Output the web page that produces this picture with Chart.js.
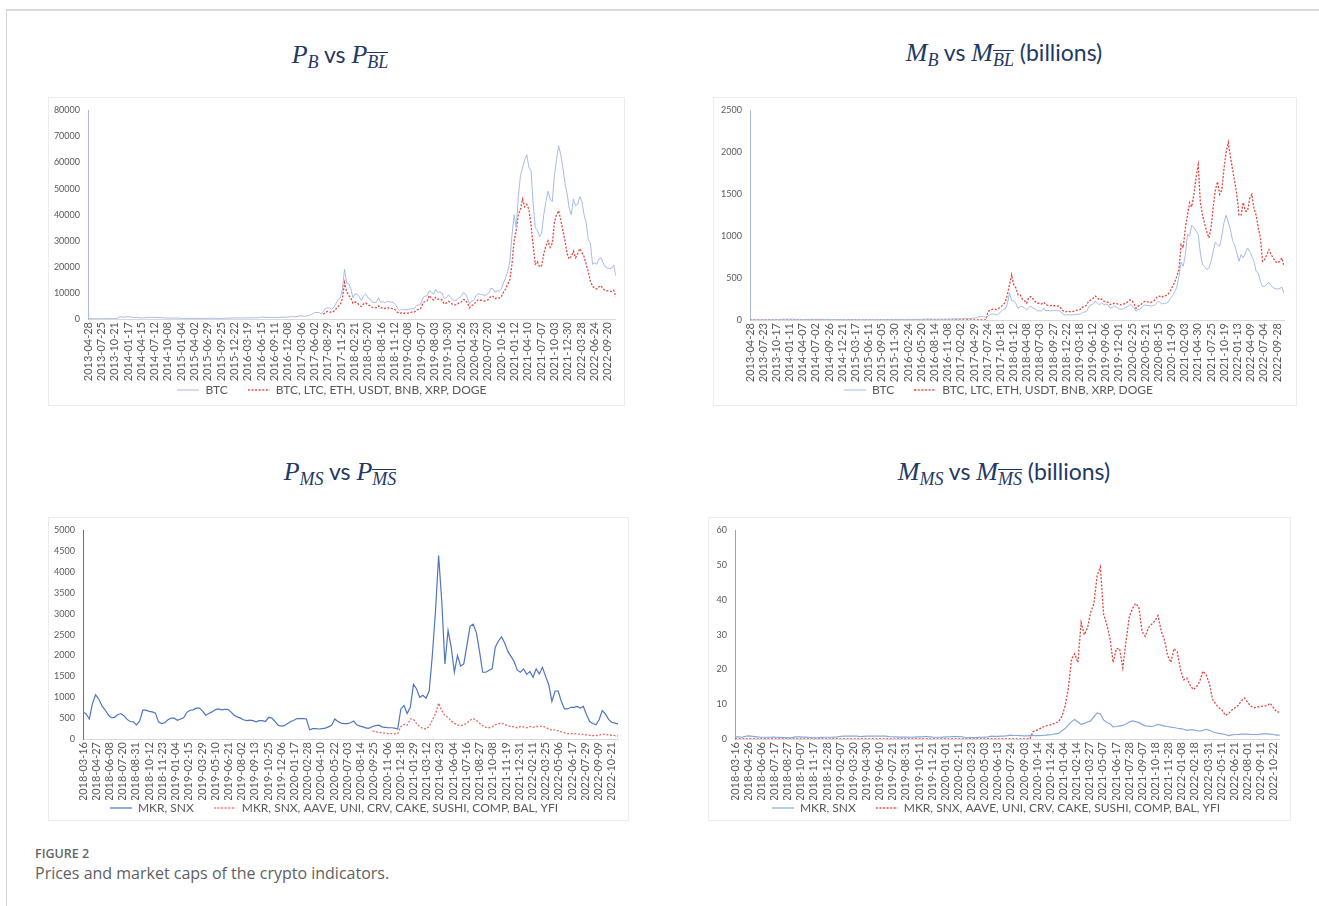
<!DOCTYPE html>
<html>
<head>
<meta charset="utf-8">
<script src="https://cdn.jsdelivr.net/npm/chart.js@4.4.1/dist/chart.umd.min.js"></script>
<style>
  html, body { margin: 0; padding: 0; background: #fff; }
  body { width: 1319px; height: 906px; position: relative; overflow: hidden; }
  .frame { position: absolute; left: 6px; top: 9px; width: 1320px; height: 900px;
           border-top: 2px solid #d9d9d9; border-left: 1px solid #d4d4d4; }
  .panel { position: absolute; border: 1px solid #ececec; box-sizing: border-box; }
  canvas { position: absolute; }
  .ttl { position: absolute; text-align: center; color: #1f3864; white-space: nowrap; line-height: 30px; }
  .mi { font-family: 'Liberation Serif', serif; font-style: italic; font-size: 26px; }
  .sb { font-size: 18px; position: relative; top: 5px; }
  .ov { display: inline-block; border-top: 1px solid #1f3864; line-height: 17px; padding-top: 1px; }
  .tx { font-family: Lato, sans-serif; font-size: 23px; }
  .figno { position: absolute; left: 35px; top: 845px; font: 600 12.5px 'Open Sans', sans-serif; color: #666; }
  .cap { position: absolute; left: 35px; top: 862px; font: 400 16px 'Open Sans', sans-serif; color: #5f5f5f; }
</style>
</head>
<body>
<div class="frame"></div>

<div class="ttl" style="left:190px; top:39px; width:300px;">
  <span class="mi">P</span><span class="mi sb">B</span><span class="tx"> vs </span><span class="mi">P</span><span class="mi sb"><span class="ov">BL</span></span>
</div>
<div class="ttl" style="left:804px; top:37px; width:400px;">
  <span class="mi">M</span><span class="mi sb">B</span><span class="tx"> vs </span><span class="mi">M</span><span class="mi sb"><span class="ov">BL</span></span><span class="tx"> (billions)</span>
</div>
<div class="ttl" style="left:190px; top:456px; width:300px;">
  <span class="mi">P</span><span class="mi sb">MS</span><span class="tx"> vs </span><span class="mi">P</span><span class="mi sb"><span class="ov">MS</span></span>
</div>
<div class="ttl" style="left:804px; top:456px; width:400px;">
  <span class="mi">M</span><span class="mi sb">MS</span><span class="tx"> vs </span><span class="mi">M</span><span class="mi sb"><span class="ov">MS</span></span><span class="tx"> (billions)</span>
</div>

<div class="panel" style="left:48px; top:97px; width:577px; height:309px;"></div>
<div class="panel" style="left:713px; top:97px; width:584px; height:309px;"></div>
<div class="panel" style="left:48px; top:517px; width:581px; height:304px;"></div>
<div class="panel" style="left:708px; top:517px; width:583px; height:304px;"></div>

<canvas id="cPB" width="576" height="309" style="left:48px; top:97px;"></canvas>
<canvas id="cMB" width="583" height="309" style="left:713px; top:97px;"></canvas>
<canvas id="cPMS" width="580" height="307" style="left:48px; top:517px;"></canvas>
<canvas id="cMMS" width="582" height="307" style="left:708px; top:517px;"></canvas>

<div class="figno">FIGURE 2</div>
<div class="cap">Prices and market caps of the crypto indicators.</div>

<script>
// ---------- Bitcoin vs large-cap basket (sampled every 14 days from 2013-04-28) ----------
const bOrigin = '2013-04-28';
const bStep = 14;

// BTC price (USD)
const btcPrice = [
  135,115,130,105,105,75,90,95,100,140,
  135,140,140,190,330,820,800,650,920,830,
  830,620,560,630,470,420,440,440,570,650,
  600,635,620,590,500,480,475,375,375,350,
  360,365,375,330,265,210,225,235,260,285,
  250,235,220,240,240,225,245,270,275,280,
  260,230,230,232,247,285,370,322,395,440,
  430,385,370,405,430,415,420,420,460,458,
  440,575,760,700,680,625,570,575,605,600,
  617,657,710,730,765,790,1000,820,920,1000,
  1180,1230,965,1190,1250,1550,2050,2520,2500,2500,
  1920,2750,4050,4350,4200,3650,4600,6000,7400,8000,
  11200,19100,13800,13600,11500,8100,9600,9500,8450,7000,
  8900,9650,8200,7700,6500,6350,6350,8200,6300,6700,
  6250,6700,6600,6500,6400,5600,4100,3250,3850,3500,
  3550,3650,3850,3950,4000,5200,5350,5750,8200,8750,
  8950,10800,10300,9500,11400,10150,10400,10000,7850,8200,
  9200,8500,7400,7100,7300,8200,8600,10100,9700,8050,
  5800,6800,7100,8900,9700,9450,9350,9000,9300,9900,
  11700,11650,10250,10900,10700,11500,13750,15950,18200,22000,
  32000,40000,35000,47000,55000,58000,61000,63000,58000,57000,
  44000,35000,34000,31500,33000,40000,45000,49000,46000,45000,
  55000,61000,66500,63000,58000,52000,48000,42500,40000,46000,
  43500,44000,47000,45000,40000,37000,30500,29000,21000,21500,
  21000,23000,23500,21500,20000,19500,19300,19500,20600,16500
];

// Basket price (BTC, LTC, ETH, USDT, BNB, XRP, DOGE), first value on 2017-07-30
const blPriceStart = '2017-07-30';
const blPrice = [
  1800,2600,2900,2700,2500,3000,3900,4800,5500,7800,
  14000,10500,9000,8000,6000,6500,6200,5300,4800,5800,
  6200,5400,5100,4500,4300,4300,5000,4200,4400,4000,
  4300,4200,4100,4000,3500,2600,2100,2400,2200,2200,
  2300,2500,2600,2700,3500,3700,4100,6200,6700,7000,
  9000,8000,7300,8300,7600,7700,7300,5800,6100,6800,
  6300,5600,5400,5500,6200,6500,7500,7300,6100,4300,
  5200,5400,6700,7300,7200,7100,6900,7100,7500,8700,
  8700,7800,8200,8000,8600,10300,11500,13400,15000,21000,
  30000,34000,40000,42000,46000,43000,44000,42000,36000,28000,
  21000,22000,20000,20500,25000,28000,30000,27500,29000,37000,
  40000,41500,38000,34000,30000,25000,23000,24000,26000,23500,
  25000,27000,25500,24000,21000,18000,14500,12500,11800,11500,
  12300,12800,11500,11000,10800,10700,10500,11000,8500
];

// BTC market cap (billions)
const btcCap = [
  1.5,1.3,1.5,1.2,1.2,0.9,1.0,1.1,1.2,1.6,
  1.6,1.6,1.6,2.3,4.0,9.9,9.7,7.9,11.3,10.2,
  10.2,7.7,7.0,7.9,5.9,5.3,5.6,5.6,7.3,8.4,
  7.8,8.3,8.1,7.7,6.6,6.3,6.3,5.0,5.0,4.7,
  4.8,4.9,5.1,4.5,3.6,2.9,3.1,3.3,3.6,4.0,
  3.5,3.3,3.1,3.4,3.4,3.2,3.5,3.9,3.9,4.0,
  3.8,3.3,3.4,3.4,3.6,4.2,5.5,4.8,5.9,6.6,
  6.5,5.8,5.6,6.1,6.5,6.4,6.4,6.5,7.1,7.1,
  6.8,8.9,11.9,11.0,10.7,9.8,9.0,9.1,9.6,9.5,
  9.8,10.5,11.3,11.7,12.3,12.7,16.1,13.2,14.8,16.2,
  19.1,20.0,15.7,19.4,20.4,25.3,33.5,41.3,41.0,41.1,
  31.6,45.3,66.8,71.8,69.4,60.4,76.2,99.5,123,133,
  187,325,232,229,194,137,162,161,143,119,
  151,164,140,132,111,109,109,141,108,115,
  108,116,114,113,111,97,71,57,67,61,
  62,64,67,69,70,92,94,102,160,180,
  195,225,200,180,205,185,190,180,141,147,
  165,153,133,128,132,149,156,184,177,147,
  106,124,130,163,179,174,172,166,172,183,
  216,216,190,202,198,213,255,290,335,390,
  520,690,640,780,1020,1000,1130,1100,1060,1020,
  800,660,640,600,620,700,820,930,900,880,
  1000,1160,1250,1170,1080,950,900,800,700,780,
  740,800,860,820,760,700,580,560,460,400,
  400,430,445,410,385,375,370,375,395,320
];

// Basket market cap (billions)
const blCap = [
  0,0,0,0,0,0,0,0,0,0, 0,0,0,0,0,0,0,0,0,0,
  0,0,0,0,0,0,0,0,0,0, 0,0,0,0,0,0,0,0,0,0,
  0,0,0,0,0,0,0,0,0,0, 0,0,0,0,0,0,0,0,0,0,
  0,0,0,0,0,0,0,0,0,0, 0,0,0,0,0,0,0,0,0,0,
  0,0,0,0,0,0,0,0,0,0, 0,0,0,0,0,0,0,0,0,0,
  0,0,0,0,0,0,0,0,0,0, 0,
  100,120,128,130,125,140,160,180,210,300,
  420,540,420,380,300,300,250,230,200,270,
  280,250,220,200,200,190,210,180,175,170,
  175,170,165,165,140,110,95,105,100,100,
  105,115,118,125,155,160,180,230,240,260,
  285,260,240,250,225,220,210,185,190,200,
  195,185,180,185,200,215,240,235,200,140,
  165,175,205,220,215,215,210,220,245,280,
  285,270,290,290,310,350,400,450,520,600,
  900,860,1100,1250,1400,1350,1500,1700,1850,1400,
  1250,1150,1050,980,1100,1350,1550,1650,1500,1550,
  1800,2000,2120,1950,1800,1650,1500,1250,1250,1400,
  1300,1300,1450,1500,1330,1250,1100,980,700,720,
  780,840,780,740,700,680,700,740,640
];

const pbTicks = ['2013-04-28','2013-07-25','2013-10-21','2014-01-17','2014-04-15','2014-07-12','2014-10-08',
  '2015-01-04','2015-04-02','2015-06-29','2015-09-25','2015-12-22','2016-03-19','2016-06-15','2016-09-11',
  '2016-12-08','2017-03-06','2017-06-02','2017-08-29','2017-11-25','2018-02-21','2018-05-20','2018-08-16',
  '2018-11-12','2019-02-08','2019-05-07','2019-08-03','2019-10-30','2020-01-26','2020-04-23','2020-07-20',
  '2020-10-16','2021-01-12','2021-04-10','2021-07-07','2021-10-03','2021-12-30','2022-03-28','2022-06-24',
  '2022-09-20'];
const mbTicks = ['2013-04-28','2013-07-23','2013-10-17','2014-01-11','2014-04-07','2014-07-02','2014-09-26',
  '2014-12-21','2015-03-17','2015-06-11','2015-09-05','2015-11-30','2016-02-24','2016-05-20','2016-08-14',
  '2016-11-08','2017-02-02','2017-04-29','2017-07-24','2017-10-18','2018-01-12','2018-04-08','2018-07-03',
  '2018-09-27','2018-12-22','2019-03-18','2019-06-12','2019-09-06','2019-12-01','2020-02-25','2020-05-21',
  '2020-08-15','2020-11-09','2021-02-03','2021-04-30','2021-07-25','2021-10-19','2022-01-13','2022-04-09',
  '2022-07-04','2022-09-28'];

// ---------- MKR/SNX vs DeFi basket (sampled every 10 days from 2018-03-16) ----------
const msOrigin = '2018-03-16';
const msStep = 10;

// MKR, SNX price
const msPrice = [
  650,600,480,850,1060,960,800,700,580,510,
  520,580,610,560,470,420,410,340,430,690,
  690,660,650,620,410,370,390,460,500,500,
  450,480,510,640,690,700,740,740,670,570,
  610,650,700,720,700,710,710,650,570,530,
  500,460,440,450,440,410,440,440,420,520,
  500,420,330,310,320,370,420,450,490,490,
  490,480,220,250,250,240,250,260,290,330,
  480,420,380,370,370,390,430,340,310,290,
  260,260,300,320,330,290,280,270,270,260,
  240,720,800,610,760,1310,1200,1000,1050,980,
  1150,2000,3050,4400,3300,1800,2600,2200,1600,2000,
  1750,1800,2250,2700,2750,2550,2100,1600,1600,1650,
  1680,2200,2350,2450,2300,2100,1980,1850,1650,1600,
  1680,1550,1620,1480,1680,1560,1720,1500,1300,900,
  1150,1150,900,720,720,760,760,780,740,780,
  580,420,370,340,460,680,600,470,400,380,
  360
];

// DeFi basket price (MKR, SNX, AAVE, UNI, CRV, CAKE, SUSHI, COMP, BAL, YFI), first value on 2020-09-21
const dfPriceStart = '2020-09-21';
const dfPrice = [
  190,175,160,150,140,130,130,125,130,300,
  350,330,480,470,370,300,250,240,300,450,
  600,860,680,560,520,430,380,340,320,340,
  380,450,490,450,380,320,280,270,290,340,
  370,380,350,320,300,290,270,300,290,270,
  300,280,300,300,310,280,240,210,220,200,
  170,150,130,130,130,120,115,110,100,90,
  80,80,90,120,110,100,90,80,70
];

// MKR, SNX market cap (billions)
const msCap = [
  0.6,0.6,0.5,0.7,0.9,0.8,0.7,0.6,0.5,0.5,
  0.5,0.5,0.55,0.5,0.45,0.4,0.4,0.35,0.45,0.6,
  0.6,0.55,0.55,0.5,0.4,0.35,0.35,0.45,0.5,0.5,
  0.5,0.55,0.6,0.75,0.8,0.8,0.85,0.85,0.8,0.7,
  0.75,0.8,0.85,0.85,0.85,0.85,0.85,0.8,0.7,0.65,
  0.6,0.55,0.55,0.55,0.55,0.5,0.55,0.6,0.6,0.7,
  0.7,0.6,0.5,0.5,0.5,0.55,0.6,0.65,0.7,0.7,
  0.7,0.65,0.35,0.4,0.4,0.4,0.45,0.5,0.55,0.6,
  0.8,0.75,0.75,0.8,0.85,0.95,1.1,1.0,1.0,0.95,
  0.9,0.9,0.95,0.95,0.95,0.95,1.0,1.1,1.2,1.3,
  1.5,1.6,2.4,3.0,4.0,5.0,5.6,4.9,4.2,4.5,
  4.9,5.2,6.4,7.5,7.2,5.5,4.8,4.4,3.5,3.6,
  3.8,3.9,4.3,4.9,5.2,5.0,4.7,4.2,3.8,3.7,
  3.6,3.8,4.2,4.0,3.7,3.6,3.4,3.3,3.1,3.0,
  2.8,2.5,2.6,2.6,2.4,2.3,2.5,2.8,2.5,2.1,
  1.8,1.6,1.5,1.3,1.0,1.2,1.3,1.3,1.4,1.4,
  1.4,1.3,1.3,1.3,1.4,1.5,1.5,1.4,1.3,1.1,
  1.1
];

// DeFi basket market cap (billions)
const dfCap = [
  0,0,0,0,0,0,0,0,0,0, 0,0,0,0,0,0,0,0,0,0,
  0,0,0,0,0,0,0,0,0,0, 0,0,0,0,0,0,0,0,0,0,
  0,0,0,0,0,0,0,0,0,0, 0,0,0,0,0,0,0,0,0,0,
  0,0,0,0,0,0,0,0,0,0, 0,0,0,0,0,0,0,0,0,0,
  0,0,0,0,0,0,0,0,0,0, 0,0,0,
  2.1,2.5,2.9,3.4,3.8,4.0,4.2,4.6,5.0,6.5,
  9.5,14.5,23,24.5,22,33.5,30,32,36.5,39,
  47,49.5,36,33,29,22,26,26,20.5,28,
  35,37.5,39,38,31,29.5,32,33,34,35.5,
  31,28.5,24,22,26,25,20,17,17.5,15.5,
  14.2,15,16.5,19.5,18.5,16,11.5,10,9,8.3,
  6.8,7.3,8.3,9,9.6,11,11.8,10.5,9.4,9,
  9.2,9.4,9.5,9.6,10.3,9,7.8,7.7
];

const pmsTicks = ['2018-03-16','2018-04-27','2018-06-08','2018-07-20','2018-08-31','2018-10-12','2018-11-23',
  '2019-01-04','2019-02-15','2019-03-29','2019-05-10','2019-06-21','2019-08-02','2019-09-13','2019-10-25',
  '2019-12-06','2020-01-17','2020-02-28','2020-04-10','2020-05-22','2020-07-03','2020-08-14','2020-09-25',
  '2020-11-06','2020-12-18','2021-01-29','2021-03-12','2021-04-23','2021-06-04','2021-07-16','2021-08-27',
  '2021-10-08','2021-11-19','2021-12-31','2022-02-11','2022-03-25','2022-05-06','2022-06-17','2022-07-29',
  '2022-09-09','2022-10-21'];
const mmsTicks = ['2018-03-16','2018-04-26','2018-06-06','2018-07-17','2018-08-27','2018-10-07','2018-11-17',
  '2018-12-28','2019-02-07','2019-03-20','2019-04-30','2019-06-10','2019-07-21','2019-08-31','2019-10-11',
  '2019-11-21','2020-01-01','2020-02-11','2020-03-23','2020-05-03','2020-06-13','2020-07-24','2020-09-03',
  '2020-10-14','2020-11-24','2021-01-04','2021-02-14','2021-03-27','2021-05-07','2021-06-17','2021-07-28',
  '2021-09-07','2021-10-18','2021-11-28','2022-01-08','2022-02-18','2022-03-31','2022-05-11','2022-06-21',
  '2022-08-01','2022-09-11','2022-10-22'];

const bigNames = ['BTC', 'BTC, LTC, ETH, USDT, BNB, XRP, DOGE'];
const defiNames = ['MKR, SNX', 'MKR, SNX, AAVE, UNI, CRV, CAKE, SUSHI, COMP, BAL, YFI'];

// ---------- helpers ----------
const DAY_MS = 86400000;
function dayOf(dateStr, origin) {
  return Math.round((Date.parse(dateStr) - Date.parse(origin)) / DAY_MS);
}
function toPoints(values, start, origin, step) {
  const d0 = dayOf(start, origin);
  return values.map((v, i) => ({ x: d0 + i * step, y: v }));
}
// small line swatch used as the legend symbol (keeps the dotted pattern visible)
function swatch(color, width, dash) {
  const c = document.createElement('canvas');
  c.width = 22; c.height = 4;
  const g = c.getContext('2d');
  g.strokeStyle = color; g.lineWidth = width;
  g.setLineDash(dash);
  g.beginPath(); g.moveTo(0, 2); g.lineTo(22, 2); g.stroke();
  return c;
}

const axisText = '#595959';
const redLine = '#e2453f';
const ITEM_GAP = '\u2002\u2002\u2002';   // spacing after the first legend entry

function drawPanel(id, o) {
  const tickDays = o.ticks.map(t => dayOf(t, o.origin));
  const tickText = new Map(tickDays.map((d, i) => [d, o.ticks[i]]));
  const redColor = o.redColor || redLine;
  new Chart(document.getElementById(id), {
    type: 'line',
    data: {
      datasets: [
        { label: o.names[0], data: o.blue, borderColor: o.blueColor, borderWidth: o.blueWidth,
          pointRadius: 0, pointStyle: swatch(o.blueColor, o.blueWidth, []), tension: 0, fill: false },
        { label: o.names[1], data: o.red, borderColor: redColor, borderWidth: 1.3,
          borderDash: [2, 1.6], pointRadius: 0, pointStyle: swatch(redColor, 1.3, [2, 1.6]),
          tension: 0, fill: false }
      ]
    },
    options: {
      responsive: false,
      animation: false,
      devicePixelRatio: 1,
      events: [],
      layout: { padding: o.pad },
      plugins: {
        tooltip: { enabled: false },
        legend: {
          position: 'bottom',
          labels: {
            usePointStyle: true, pointStyleWidth: 22,
            padding: 2, color: axisText,
            font: { family: 'Lato', size: 12 },
            generateLabels: chart => {
              const items = Chart.defaults.plugins.legend.labels.generateLabels(chart);
              items.forEach((it, i) => { if (i < items.length - 1) it.text += ITEM_GAP; });
              return items;
            }
          }
        }
      },
      scales: {
        x: {
          type: 'linear', min: 0, max: o.xMax,
          grid: { display: false, drawTicks: false },
          border: { color: '#d9d9d9', width: 1 },
          afterBuildTicks: s => { s.ticks = tickDays.map(v => ({ value: v })); },
          afterFit: s => { s.height = o.xH; },
          ticks: {
            autoSkip: false, maxRotation: 90, minRotation: 90, padding: 3,
            color: axisText, font: { family: 'Lato', size: 11 },
            callback: v => tickText.get(v) || ''
          }
        },
        y: {
          min: 0, max: o.yMax,
          grid: { display: false, drawTicks: false },
          border: { color: o.blueColor, width: 1 },
          afterFit: s => { s.width = o.yW; },
          ticks: {
            stepSize: o.yStep, padding: 8,
            color: axisText, font: { family: 'Lato', size: 9 },
            callback: v => String(v)
          }
        }
      }
    }
  });
}

drawPanel('cPB', {
  origin: bOrigin, ticks: pbTicks, names: bigNames, xMax: 3486,
  blue: toPoints(btcPrice, bOrigin, bOrigin, bStep),
  red: toPoints(blPrice, blPriceStart, bOrigin, bStep),
  blueColor: '#a7bbe3', blueWidth: 1,
  yMax: 80000, yStep: 10000, yW: 40, xH: 63,
  pad: { top: 5, left: 0, right: 8, bottom: 0 }
});

drawPanel('cMB', {
  origin: bOrigin, ticks: mbTicks, names: bigNames, xMax: 3486,
  blue: toPoints(btcCap, bOrigin, bOrigin, bStep),
  red: toPoints(blCap, bOrigin, bOrigin, bStep),
  blueColor: '#a7bbe3', blueWidth: 1,
  yMax: 2500, yStep: 500, yW: 37, xH: 62,
  pad: { top: 6, left: 0, right: 12, bottom: 0 }
});

drawPanel('cPMS', {
  origin: msOrigin, ticks: pmsTicks, names: defiNames, xMax: 1700,
  blue: toPoints(msPrice, msOrigin, msOrigin, msStep),
  red: toPoints(dfPrice, dfPriceStart, msOrigin, msStep),
  blueColor: '#4f75c2', blueWidth: 1.2, redColor: '#e66a64',
  yMax: 5000, yStep: 500, yW: 35, xH: 61,
  pad: { top: 5, left: 0, right: 8, bottom: 0 }
});

drawPanel('cMMS', {
  origin: msOrigin, ticks: mmsTicks, names: defiNames, xMax: 1700,
  blue: toPoints(msCap, msOrigin, msOrigin, msStep),
  red: toPoints(dfCap, msOrigin, msOrigin, msStep),
  blueColor: '#8aa7dc', blueWidth: 1.2,
  yMax: 60, yStep: 10, yW: 27, xH: 61,
  pad: { top: 5, left: 0, right: 6, bottom: 0 }
});
</script>
</body>
</html>
